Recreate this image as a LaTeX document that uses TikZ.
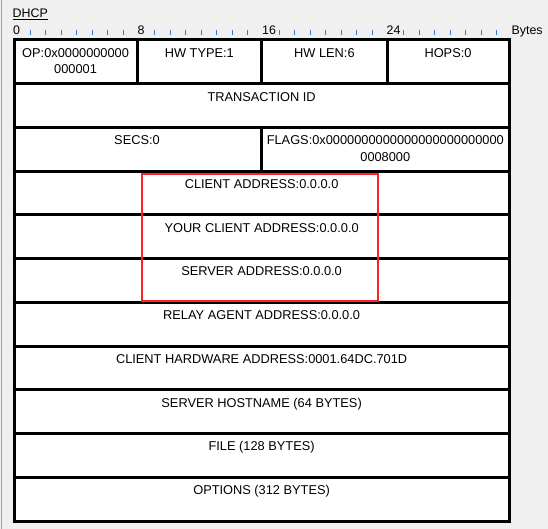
\documentclass[tikz,border=0pt]{standalone}
\usepackage{fontspec}
\setmainfont{Liberation Sans}
\definecolor{bgc}{HTML}{F0F0F0}
\definecolor{tickc}{HTML}{3A7BD0}
\definecolor{redc}{HTML}{FF2222}
\definecolor{edgec}{HTML}{A0A0A0}
\begin{document}
\begin{tikzpicture}[x=1pt,y=-1pt,
  lbl/.style={font={\fontsize{12.8}{16.7}\selectfont}, inner sep=0pt, anchor=base, align=center, text=black},
  tlbl/.style={font={\fontsize{12.4}{14}\selectfont}, inner sep=0pt, anchor=base west, text=black},
  grid/.style={line width=3pt, draw=black},
  tickmark/.style={draw=tickc, line width=1pt},
]
\useasboundingbox (0,0) rectangle (548,529);
\fill[bgc] (0,0) rectangle (548,529);
\draw[edgec, line width=1.5pt] (1.5,0) -- (1.5,529);

% title
\node[tlbl] (title) at (12.5,18) {\underline{DHCP}};

% ruler
\foreach \k in {1,...,31}{
  \pgfmathtruncatemacro{\m}{mod(\k,8)}
  \ifnum\m=0\else
    \draw[tickmark] ({14.5+15.56*\k},30) -- ({14.5+15.56*\k},35);
  \fi
}
\node[tlbl] (r0) at (13,35) {0};
\node[tlbl] (r8) at ({13+15.56*8},35) {8};
\node[tlbl] (r16) at ({13+15.56*16},35) {16};
\node[tlbl] (r24) at ({13+15.56*24},35) {24};
\node[tlbl] (rb) at ({13.5+15.56*32},35) {Bytes};

% table background
\fill[white] (14.2,40) rectangle (509,521);

% horizontal lines
\foreach \i in {0,...,11}{
  \draw[grid] (12.7,{40+43.73*\i}) -- (510.5,{40+43.73*\i});
}
% vertical outer lines
\draw[grid] (14.2,40) -- (14.2,521);
\draw[grid] (509,40) -- (509,521);
% row 0 dividers
\draw[grid] (137,40) -- (137,83.73);
\draw[grid] (261.7,40) -- (261.7,83.73);
\draw[grid] (387,40) -- (387,83.73);
% row 2 divider
\draw[grid] (261.7,127.46) -- (261.7,171.19);

% texts (two-line nodes: base anchor sits on the last line)
\node[lbl] (op) at (75.6,74) {OP:0x0000000000\\000001};
\node[lbl] (hwtype) at (199.3,57.3) {HW TYPE:1};
\node[lbl] (hwlen) at (324.4,57.3) {HW LEN:6};
\node[lbl] (hops) at (448,57.3) {HOPS:0};
\node[lbl] (xid) at (261.6,{57.3+43.73}) {TRANSACTION ID};
\node[lbl] (secs) at (137,{57.3+2*43.73}) {SECS:0};
\node[lbl] (flags) at (385.3,{74+2*43.73}) {FLAGS:0x0000000000000000000000000\\0008000};
\node[lbl] (ciaddr) at (261.6,{57.3+3*43.73}) {CLIENT ADDRESS:0.0.0.0};
\node[lbl] (yiaddr) at (261.6,{57.3+4*43.73}) {YOUR CLIENT ADDRESS:0.0.0.0};
\node[lbl] (siaddr) at (261.6,{57.3+5*43.73}) {SERVER ADDRESS:0.0.0.0};
\node[lbl] (giaddr) at (261.6,{57.3+6*43.73}) {RELAY AGENT ADDRESS:0.0.0.0};
\node[lbl] (chaddr) at (261.6,{57.3+7*43.73}) {CLIENT HARDWARE ADDRESS:0001.64DC.701D};
\node[lbl] (sname) at (261.6,{57.3+8*43.73}) {SERVER HOSTNAME (64 BYTES)};
\node[lbl] (file) at (261.6,{57.3+9*43.73}) {FILE (128 BYTES)};
\node[lbl] (opts) at (261.6,{57.3+10*43.73}) {OPTIONS (312 BYTES)};

% highlight
\draw[redc, line width=2.3pt] (141.8,173.8) rectangle (377.8,301);
\end{tikzpicture}
\end{document}
